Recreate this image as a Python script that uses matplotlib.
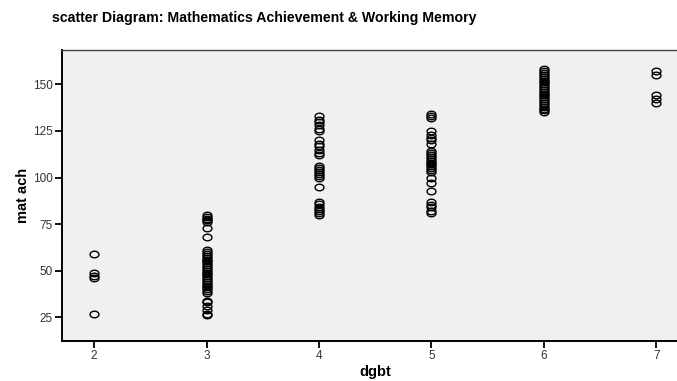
import numpy as np
import matplotlib
matplotlib.use('Agg')
import matplotlib.pyplot as plt
from matplotlib.path import Path

# dgbt groups and mat ach values
dgbt_2 = [59, 49, 47, 46, 27]
dgbt_3 = [80, 79, 78, 77, 76, 73, 68, 61, 60, 59, 58, 57, 56, 55, 54, 53, 52,
          51, 50, 49, 48, 47, 46, 45, 44, 43, 42, 41, 40, 39, 38, 34, 33, 31,
          29, 27, 26]
dgbt_4 = [133, 131, 130, 128, 126, 125, 120, 118, 117, 115, 113, 112, 106,
          105, 104, 103, 102, 101, 100, 95, 87, 86, 84, 83, 82, 81, 80]
dgbt_5 = [134, 133, 132, 125, 123, 121, 120, 118, 114, 113, 112, 111, 110,
          109, 108, 107, 106, 105, 104, 103, 100, 97, 93, 87, 85, 84, 82, 81]
dgbt_6 = [158, 157, 156, 155, 154, 153, 152, 151, 150, 149, 148, 147, 146,
          145, 144, 143, 142, 141, 140, 139, 138, 137, 136, 135]
dgbt_7 = [157, 155, 144, 142, 140]

groups = {2: dgbt_2, 3: dgbt_3, 4: dgbt_4, 5: dgbt_5, 6: dgbt_6, 7: dgbt_7}
x_ticks = [2, 3, 4, 5, 6, 7]
y_ticks = [25, 50, 75, 100, 125, 150]

xs, ys = [], []
for k, vals in groups.items():
    xs += [k] * len(vals)
    ys += vals

# flat open ellipse, like the SPSS marker
t = np.linspace(0, 2 * np.pi, 40)
ellipse = Path(np.column_stack([np.cos(t), 0.74 * np.sin(t)]), closed=True)

fig = plt.figure(figsize=(6.77, 3.81), dpi=100)
ax = fig.add_axes([62 / 677, 40 / 381, 627 / 677, 291 / 381])
ax.set_facecolor('#f0f0f0')

ax.plot(xs, ys, linestyle='none', marker=ellipse, markersize=6.4,
        markerfacecolor='none', markeredgecolor='black', markeredgewidth=1.0)

ax.set_xlim(1.714, 7.29)
ax.set_ylim(12.3, 168.4)
ax.set_xticks(x_ticks)
ax.set_yticks(y_ticks)
ax.tick_params(direction='out', length=5, width=1.3, color='black',
               labelsize=8.5, labelcolor='#333333', pad=1.5)

for s in ['left', 'bottom']:
    ax.spines[s].set_linewidth(1.4)
    ax.spines[s].set_color('black')
ax.spines['top'].set_color('#444444')
ax.spines['top'].set_linewidth(1.0)
ax.spines['right'].set_visible(False)

ax.set_xlabel('dgbt', fontsize=10.5, fontweight='bold', family='Liberation Sans',
              labelpad=2)
ax.set_ylabel('mat ach', fontsize=10.5, fontweight='bold', family='Liberation Sans',
              labelpad=2)
fig.text(52 / 677, 1 - 18 / 381, 'scatter Diagram: Mathematics Achievement & Working Memory',
         fontsize=10.2, fontweight='bold', family='Liberation Sans', va='center')

for lbl in ax.get_xticklabels() + ax.get_yticklabels():
    lbl.set_family('Liberation Sans')

fig.savefig('out.png', dpi=100)
